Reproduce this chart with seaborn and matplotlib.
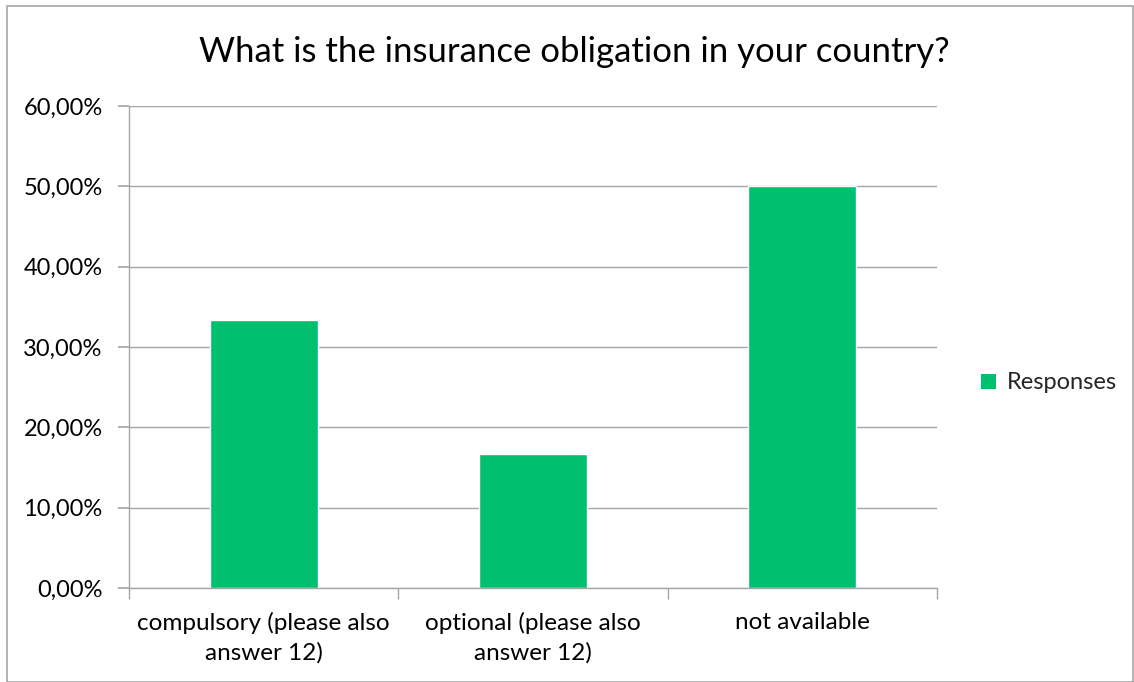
import matplotlib
matplotlib.use("Agg")
import matplotlib.pyplot as plt
import seaborn as sns
import pandas as pd
from matplotlib.ticker import FuncFormatter, FixedLocator
from matplotlib.patches import Rectangle

categories = ["compulsory (please also\nanswer 12)", "optional (please also\nanswer 12)", "not available"]
values = [33.33, 16.67, 50.0]
series_name = "Responses"
title = "What is the insurance obligation in your country?"

sns.set_theme(style="white")
plt.rcParams['font.family'] = ['Lato', 'DejaVu Sans']

df = pd.DataFrame({"category": categories, "value": values, "series": series_name})

fig = plt.figure(figsize=(11.34, 6.82), dpi=100)
ax = fig.add_axes([129/1134, 94/682, (937-129)/1134, (588-106)/682])

green = "#00BF6F"
sns.barplot(data=df, x="category", y="value", hue="series", palette=[green],
            width=0.4, ax=ax, legend=False, saturation=1)

ax.set_ylim(0, 60)
ax.set_xlim(-0.5, 2.5)
ax.set_yticks([0, 10, 20, 30, 40, 50, 60])
ax.yaxis.set_major_formatter(FuncFormatter(lambda v, p: f"{v:.2f}%".replace(".", ",")))
ax.grid(axis="y", color="#A6A6A6", linewidth=1)
ax.set_axisbelow(True)
for s in ["top", "right"]:
    ax.spines[s].set_visible(False)
for s in ["left", "bottom"]:
    ax.spines[s].set_color("#A6A6A6")
    ax.spines[s].set_linewidth(1)
ax.tick_params(axis="y", which="major", length=8, color="#A6A6A6", direction="out",
               labelsize=17, labelcolor="black", pad=11, left=True)
ax.tick_params(axis="x", which="major", length=0, labelsize=17.5, labelcolor="black", pad=17)
ax.xaxis.set_minor_locator(FixedLocator([-0.5, 0.5, 1.5, 2.5]))
ax.tick_params(axis="x", which="minor", length=8, color="#A6A6A6", direction="out", bottom=True)
ax.set_xlabel("")
ax.set_ylabel("")
for lbl in ax.get_xticklabels():
    lbl.set_linespacing(1.45)

fig.text(574/1134, 1 - 52/682, title, ha="center", va="center", fontsize=25, color="black")

handle = Rectangle((0, 0), 1, 1, facecolor=green, edgecolor="none")
fig.legend([handle], [series_name], loc="center left", bbox_to_anchor=(960/1134, 1 - 383/682),
           frameon=False, fontsize=17, handlelength=0.62, handleheight=0.62, handletextpad=0.45)

fig.patches.append(Rectangle((7/1134, 0), (1133 - 7)/1134, (682 - 6)/682, transform=fig.transFigure,
                             fill=False, edgecolor="#A6A6A6", linewidth=1.2))

fig.savefig("out.png", dpi=100)
